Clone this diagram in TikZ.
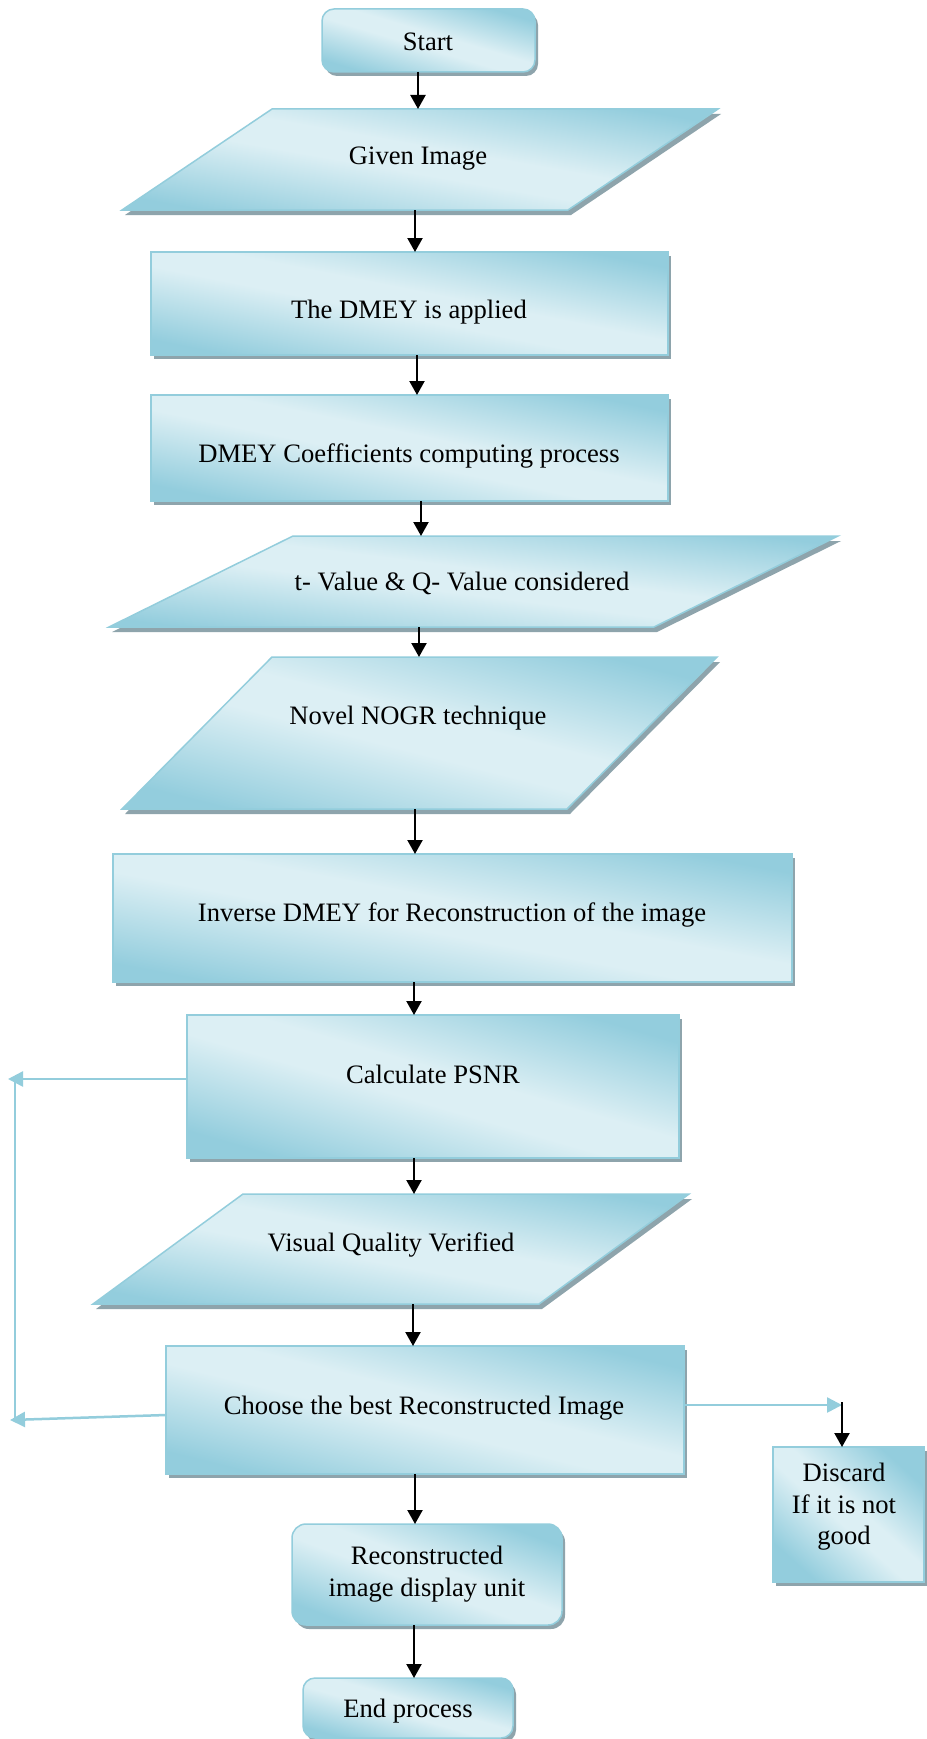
\documentclass[tikz,border=0pt]{standalone}
\usepackage{fontspec}
\setmainfont{Liberation Serif}
\usetikzlibrary{arrows.meta,shadows,calc}
\definecolor{aqD}{HTML}{93CDDD}
\definecolor{aqL}{HTML}{DCEFF4}
\definecolor{aqB}{HTML}{93CDDC}
\definecolor{shd}{HTML}{8EA4AC}
\pgfdeclarehorizontalshading{wordaqua}{100bp}{color(0bp)=(aqD); color(25bp)=(aqD); color(46bp)=(aqL); color(54bp)=(aqL); color(75bp)=(aqD); color(100bp)=(aqD)}
\tikzset{
  box/.style={draw=aqB, line width=1.5pt, shading=wordaqua, inner sep=0pt, outer sep=0pt,
    drop shadow={shadow xshift=3pt, shadow yshift=-4pt, fill=shd, opacity=1}},
  rbox/.style={box, rounded corners=12pt},
  sa/.style={shading angle=#1},
  para/.style={draw=aqB, line width=1.5pt, shading=wordaqua},
  inv/.style={inner sep=0pt, outer sep=0pt, draw=none},
  txt/.style={font=\fontsize{26.6}{31.5}\selectfont, align=center, inner sep=0pt, yshift=-3pt},
  arr/.style={-{Triangle[width=15pt,length=14pt]}, line width=2.2pt, black},
  barr/.style={-{Triangle[width=15pt,length=15pt]}, line width=2.5pt, aqB},
  bline/.style={line width=2.5pt, aqB},
}
\newcommand\ParaGram[7]{% name, ytop, ybot, xTL, xBL, edge, shading angle
  \fill[shd] (#5+3,#3+5) -- (#4+3,#2+5) -- (#4+#6+3,#2+5) -- (#5+#6+3,#3+5) -- cycle;
  \path[para, shading angle=#7] (#5,#3) -- (#4,#2) -- (#4+#6,#2) -- (#5+#6,#3) -- cycle;
  \node[inv, minimum width=#4+#6-#5, minimum height=#3-#2] (#1) at ({(#5+#4+#6)/2},{(#2+#3)/2}) {};
}
\begin{document}
\begin{tikzpicture}[x=1pt,y=-1pt]
\fill[white] (0,0) rectangle (926,1739);
\useasboundingbox (0,0) rectangle (926,1739);

% shapes
\node[rbox, sa=73.5, minimum width=213, minimum height=63] (start) at (428.5,40.5) {};
\ParaGram{gi}{109}{210}{272}{122}{446}{80}
\node[box, sa=78.7, minimum width=517, minimum height=103] (dm1) at (409.5,303.5) {};
\node[box, sa=78.4, minimum width=517, minimum height=106] (dm2) at (409.5,448) {};
\ParaGram{tv}{536}{627}{293}{109}{545}{82.9}
\ParaGram{nog}{657}{809}{272}{122}{445}{75.7}
\node[box, sa=79.3, minimum width=679, minimum height=128] (inv) at (452.5,918) {};
\node[box, sa=73.8, minimum width=492, minimum height=143] (calc) at (433,1086.5) {};
\ParaGram{vq}{1194}{1304}{243}{93}{446}{79.5}
\node[box, sa=76.1, minimum width=518, minimum height=128] (choose) at (425,1410) {};
\node[box, sa=48.2, minimum width=151, minimum height=135] (discard) at (848.5,1514.5) {};
\node[rbox, sa=69.5, rounded corners=14pt, minimum width=270, minimum height=101] (recon) at (427,1574.5) {};
\node[rbox, sa=74, minimum width=210, minimum height=60] (endp) at (408,1708) {};

% texts
\node[txt] (startT) at (428,39) {Start};
\node[txt] (giT) at (418,156) {Given Image};
\node[txt] (dm1T) at (409,309) {The DMEY is applied};
\node[txt] (dm2T) at (409,453) {DMEY Coefficients computing process};
\node[txt] (tvT) at (462,580) {t- Value \& Q- Value considered};
\node[txt] (nogT) at (418,715) {Novel NOGR technique};
\node[txt] (invT) at (452,912) {Inverse DMEY for Reconstruction of the image};
\node[txt] (calcT) at (433,1071) {Calculate PSNR};
\node[txt] (vqT) at (391,1242) {Visual Quality Verified};
\node[txt] (chT) at (424,1405) {Choose the best Reconstructed Image};
\node[txt] (disT) at (844,1504) {Discard\\If it is not\\good};
\node[txt] (recT) at (427,1571) {Reconstructed\\image display unit};
\node[txt] (endT) at (408,1708) {End process};

% main arrows
\draw[arr] (start.south -| 418,0) -- (gi.north -| 418,0);
\draw[arr] (gi.south -| 415,0) -- (dm1.north -| 415,0);
\draw[arr] (dm1.south -| 417,0) -- (dm2.north -| 417,0);
\draw[arr] (dm2.south -| 421,0) -- (tv.north -| 421,0);
\draw[arr] (tv.south -| 419,0) -- (nog.north -| 419,0);
\draw[arr] (nog.south -| 415,0) -- (inv.north -| 415,0);
\draw[arr] (inv.south -| 414,0) -- (calc.north -| 414,0);
\draw[arr] (calc.south -| 414,0) -- (vq.north -| 414,0);
\draw[arr] (vq.south -| 413,0) -- (choose.north -| 413,0);
\draw[arr] (choose.south -| 415,0) -- (recon.north -| 415,0);
\draw[arr] (recon.south -| 414,0) -- (endp.north -| 414,0);

% feedback and discard connectors
\coordinate (fbTop) at (8,1079);
\coordinate (fbBot) at (10,1420);
\coordinate (vTop) at (15,1079);
\coordinate (vBot) at (15,1418);
\coordinate (dTip) at (842,1405);
\coordinate (dTop) at (842,1402);
\draw[barr] (calc.west |- 0,1079) -- (fbTop);
\draw[barr] (choose.west |- 0,1415) -- (fbBot);
\draw[bline] (vTop) -- (vBot);
\draw[barr] (choose.east |- 0,1405) -- (dTip);
\draw[arr] (dTop) -- (discard.north -| dTop);
\end{tikzpicture}
\end{document}
